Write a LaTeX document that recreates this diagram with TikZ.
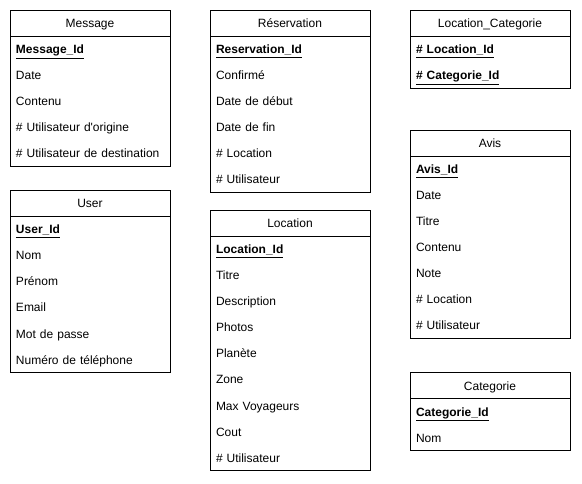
\documentclass[tikz,border=0pt]{standalone}
\usepackage{fontspec}
\setmainfont{Liberation Sans}
\usetikzlibrary{positioning}

\begin{document}
\begin{tikzpicture}[x=1pt, y=-1pt, node distance=0pt, line width=0.8pt,
  every node/.style={font=\fontsize{12}{14}\selectfont},
  head/.style={draw, anchor=north west, minimum width=160pt, minimum height=26pt, inner sep=0pt, outer sep=0pt, text height=11pt, text depth=1pt},
  field/.style={text width=148pt, inner xsep=6pt, inner ysep=0pt, outer sep=0pt, minimum height=26pt, text height=11pt, text depth=1pt, align=left},
  key/.style={field, font=\fontsize{12}{14}\selectfont\bfseries}]
  \useasboundingbox (0,0) rectangle (582,484);
  % Message
  \node[head] (msg) at (10,10) {Message};
  \node[key,below=of msg] (msg1) {\underline{Message\_Id}};
  \node[field,below=of msg1] (msg2) {Date};
  \node[field,below=of msg2] (msg3) {Contenu};
  \node[field,below=of msg3] (msg4) {\# Utilisateur d\textquotesingle origine};
  \node[field,below=of msg4] (msg5) {\# Utilisateur de destination};
  \draw (msg.south west) rectangle (msg5.south east);
  % User
  \node[head] (usr) at (10,190) {User};
  \node[key,below=of usr] (usr1) {\underline{User\_Id}};
  \node[field,below=of usr1] (usr2) {Nom};
  \node[field,below=of usr2] (usr3) {Prénom};
  \node[field,below=of usr3] (usr4) {Email};
  \node[field,below=of usr4] (usr5) {Mot de passe};
  \node[field,below=of usr5] (usr6) {Numéro de téléphone};
  \draw (usr.south west) rectangle (usr6.south east);
  % Reservation
  \node[head] (res) at (210,10) {Réservation};
  \node[key,below=of res] (res1) {\underline{Reservation\_Id}};
  \node[field,below=of res1] (res2) {Confirmé};
  \node[field,below=of res2] (res3) {Date de début};
  \node[field,below=of res3] (res4) {Date de fin};
  \node[field,below=of res4] (res5) {\# Location};
  \node[field,below=of res5] (res6) {\# Utilisateur};
  \draw (res.south west) rectangle (res6.south east);
  % Location
  \node[head] (loc) at (210,210) {Location};
  \node[key,below=of loc] (loc1) {\underline{Location\_Id}};
  \node[field,below=of loc1] (loc2) {Titre};
  \node[field,below=of loc2] (loc3) {Description};
  \node[field,below=of loc3] (loc4) {Photos};
  \node[field,below=of loc4] (loc5) {Planète};
  \node[field,below=of loc5] (loc6) {Zone};
  \node[field,below=of loc6] (loc7) {Max Voyageurs};
  \node[field,below=of loc7] (loc8) {Cout};
  \node[field,below=of loc8] (loc9) {\# Utilisateur};
  \draw (loc.south west) rectangle (loc9.south east);
  % Location_Categorie
  \node[head] (lc) at (410,10) {Location\_Categorie};
  \node[key,below=of lc] (lc1) {\underline{\# Location\_Id}};
  \node[key,below=of lc1] (lc2) {\underline{\# Categorie\_Id}};
  \draw (lc.south west) rectangle (lc2.south east);
  % Avis
  \node[head] (avis) at (410,130) {Avis};
  \node[key,below=of avis] (avis1) {\underline{Avis\_Id}};
  \node[field,below=of avis1] (avis2) {Date};
  \node[field,below=of avis2] (avis3) {Titre};
  \node[field,below=of avis3] (avis4) {Contenu};
  \node[field,below=of avis4] (avis5) {Note};
  \node[field,below=of avis5] (avis6) {\# Location};
  \node[field,below=of avis6] (avis7) {\# Utilisateur};
  \draw (avis.south west) rectangle (avis7.south east);
  % Categorie
  \node[head] (cat) at (410,372) {Categorie};
  \node[key,below=of cat] (cat1) {\underline{Categorie\_Id}};
  \node[field,below=of cat1] (cat2) {Nom};
  \draw (cat.south west) rectangle (cat2.south east);
\end{tikzpicture}
\end{document}
